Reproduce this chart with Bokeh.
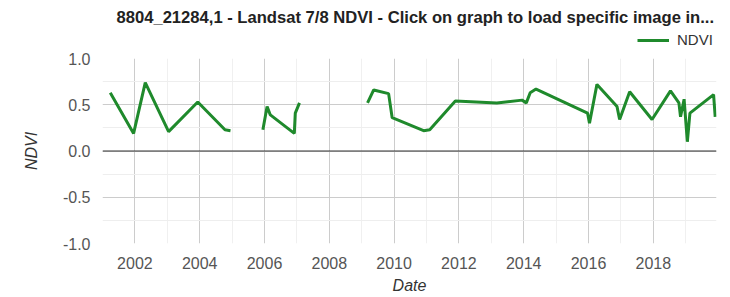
from bokeh.plotting import figure
from bokeh.layouts import column
from bokeh.models import (Range1d, FixedTicker, NumeralTickFormatter, Span,
                          Legend, LegendItem, Label)
from bokeh.embed import file_html
from bokeh.resources import INLINE

nan = float("nan")

# Decimal-year dates (NaN marks gaps in the series)
dates = [2001.24, 2001.96, 2002.32, 2003.04, 2003.94, 2004.78, 2004.95, nan,
         2005.95, 2006.08, 2006.18, 2006.92, 2006.95, 2007.08, nan,
         2009.18, 2009.37, 2009.83, 2009.94, 2010.91, 2011.10, 2011.89,
         2013.17, 2013.95, 2014.08, 2014.20, 2014.38, 2015.97, 2016.03,
         2016.26, 2016.88, 2016.96, 2017.27, 2017.96, 2018.53, 2018.79,
         2018.84, 2018.95, 2019.05, 2019.13, 2019.86, 2019.91]
ndvi = [0.63, 0.19, 0.74, 0.21, 0.53, 0.23, 0.22, nan,
        0.23, 0.48, 0.39, 0.19, 0.41, 0.52, nan,
        0.52, 0.66, 0.62, 0.36, 0.22, 0.23, 0.54,
        0.52, 0.55, 0.52, 0.63, 0.67, 0.41, 0.30,
        0.72, 0.48, 0.34, 0.64, 0.34, 0.65, 0.52,
        0.37, 0.56, 0.10, 0.41, 0.61, 0.37]

x_major = [2002, 2004, 2006, 2008, 2010, 2012, 2014, 2016, 2018]
x_minor = [2001, 2003, 2005, 2007, 2009, 2011, 2013, 2015, 2017, 2019]
y_major = [-1.0, -0.5, 0.0, 0.5, 1.0]
y_minor = [-0.75, -0.25, 0.25, 0.75]

title_text = "8804_21284,1 - Landsat 7/8 NDVI - Click on graph to load specific image in..."
series_name = "NDVI"
FONT = "Liberation Sans"
GREEN = "#1f8a2c"

# ---- header: title + legend (frame aligned with the chart frame) ----
head = figure(frame_width=614, frame_height=48, output_backend="svg",
              toolbar_location=None, x_axis_type=None, y_axis_type=None,
              x_range=Range1d(0, 614), y_range=Range1d(0, 48),
              min_border_left=102, min_border_right=14,
              min_border_top=0, min_border_bottom=0, outline_line_color=None,
              background_fill_color="white", border_fill_color="white")
head.add_layout(Label(x=14, y=31, x_units="screen", y_units="screen",
                      text=title_text, text_font=FONT, text_font_size="16.6px",
                      text_font_style="bold", text_color="#222222",
                      text_align="left", text_baseline="middle"))
# a legend-only renderer (no visible data)
hr = head.line(x=[nan], y=[nan], line_color=GREEN, line_width=3)
head.add_layout(Legend(items=[LegendItem(label=series_name, renderers=[hr])],
                       location=(535, 0), orientation="horizontal",
                       padding=0, margin=0, spacing=0, label_standoff=8,
                       glyph_width=32, glyph_height=16, label_height=16,
                       label_text_font=FONT, label_text_font_size="15px",
                       label_text_color="#333333", background_fill_alpha=0,
                       border_line_color=None))

# ---- main chart ----
p = figure(frame_width=614, frame_height=185, output_backend="svg",
           toolbar_location=None, x_range=Range1d(2001.0, 2019.95),
           y_range=Range1d(-1.0, 1.0), min_border_left=102, min_border_right=14,
           min_border_top=10, min_border_bottom=53, outline_line_color=None,
           background_fill_color="white", border_fill_color="white")

r = p.line(dates, ndvi, line_color=GREEN, line_width=3)

p.add_layout(Span(location=0, dimension="width", line_color="#333333",
                  line_width=1.2))

p.xaxis.ticker = FixedTicker(ticks=x_major, minor_ticks=x_minor)
p.yaxis.ticker = FixedTicker(ticks=y_major, minor_ticks=y_minor)
p.xaxis.formatter = NumeralTickFormatter(format="0")
p.yaxis.formatter = NumeralTickFormatter(format="0.0")
for ax in (p.xaxis, p.yaxis):
    ax.axis_line_color = None
    ax.major_tick_line_color = None
    ax.minor_tick_line_color = None
    ax.major_label_text_font = FONT
    ax.major_label_text_font_size = "16px"
    ax.major_label_text_color = "#555555"
    ax.axis_label_text_font = FONT
    ax.axis_label_text_font_size = "16px"
    ax.axis_label_text_font_style = "italic"
    ax.axis_label_text_color = "#333333"
p.xaxis.axis_label = "Date"
p.yaxis.axis_label = "NDVI"
p.xaxis.major_label_standoff = 7
p.xaxis.axis_label_standoff = 5
p.yaxis.major_label_standoff = 6
p.yaxis.axis_label_standoff = 20

p.xgrid.grid_line_color = "#cccccc"
p.ygrid.grid_line_color = "#cccccc"
p.xgrid.minor_grid_line_color = "#f0f0f0"
p.ygrid.minor_grid_line_color = "#eeeeee"

layout = column(head, p, spacing=0)
open("out.html", "w").write(file_html(layout, INLINE))
